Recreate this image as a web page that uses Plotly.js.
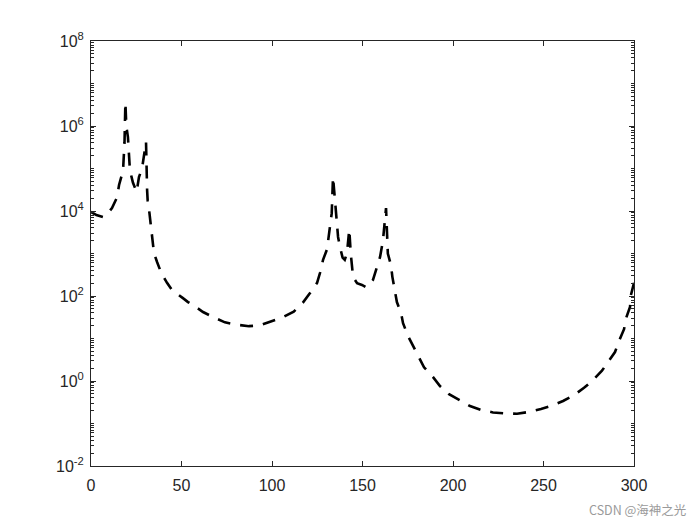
<!DOCTYPE html>
<html>
<head>
<meta charset="utf-8">
<script src="https://cdn.plot.ly/plotly-3.0.1.min.js"></script>
<style>body{margin:0;background:#fff;}#chart{width:700px;height:525px;}</style>
</head>
<body>
<div id="chart"></div>
<script>
var freq = [0, 3, 6.6, 9, 11.6, 14.4, 15.5, 17.7, 18.5, 19, 19.5, 20.4, 21.5, 23.2, 25.2, 26.5, 28.2, 29.3, 30.4, 31, 31.3, 32.3, 32.8, 33.7, 34.8, 36.5, 38.7, 42, 44.8, 50.8, 53.6, 58, 61.9, 67.4, 74, 80.7, 87.3, 93.4, 100.6, 106, 112, 117, 121, 124.9, 126.5, 128.2, 130.4, 131.5, 132, 133, 133.7, 134.3, 135, 136, 136.5, 137.6, 139, 140.2, 141.4, 142.7, 143.5, 144.8, 147, 149.7, 152, 155.8, 158, 159.7, 161.3, 162.4, 163, 164, 165.7, 166.5, 168, 169, 171.3, 172.4, 175.1, 178, 181.2, 184, 189, 192.8, 197.8, 203.3, 209.4, 215.5, 222.1, 228.2, 235.4, 241.4, 248.6, 254.7, 260.8, 266.3, 272.4, 276.8, 282.3, 285.6, 289.5, 291.7, 294.5, 295.6, 297.8, 298.3, 300];
var response = [9500, 8000, 7200, 8500, 11700, 21000, 41000, 89000, 400000, 3600000, 1000000, 550000, 91000, 46000, 28000, 63000, 100000, 210000, 420000, 31000, 18000, 8900, 5500, 2100, 1020, 630, 360, 204, 138, 89, 72, 55, 42, 32, 24, 21, 19.5, 20.4, 25.7, 31.6, 43, 69, 117, 204, 347, 708, 1260, 2450, 4200, 8900, 63000, 32000, 16000, 5000, 2450, 1400, 800, 710, 1000, 3700, 1000, 280, 200, 182, 160, 240, 457, 830, 2000, 5500, 11700, 1000, 537, 282, 138, 72, 40, 23, 11.5, 6.6, 3.5, 2.1, 1.23, 0.76, 0.49, 0.355, 0.257, 0.209, 0.182, 0.174, 0.17, 0.186, 0.219, 0.263, 0.339, 0.447, 0.69, 1.0, 1.74, 2.8, 4.8, 8.7, 16.6, 30, 55, 105, 204];
var xTicks = [0, 50, 100, 150, 200, 250, 300];
var yTicks = [0.01, 1, 100, 10000, 1000000, 100000000];
var yTickText = ['10<sup>-2</sup>', '10<sup>0</sup>', '10<sup>2</sup>', '10<sup>4</sup>', '10<sup>6</sup>', '10<sup>8</sup>'];

var trace = {
  x: freq, y: response, type: 'scatter', mode: 'lines',
  line: {color: '#000000', width: 2.6, dash: '13px,10px'},
  hoverinfo: 'skip'
};
var axisFont = {family: 'Liberation Sans, Arial, sans-serif', size: 16, color: '#262626'};
var layout = {
  width: 700, height: 525,
  margin: {l: 91, r: 66, t: 41, b: 59},
  paper_bgcolor: '#ffffff', plot_bgcolor: '#ffffff',
  showlegend: false,
  xaxis: {
    range: [0, 300], tickvals: xTicks, ticktext: xTicks.map(String),
    ticks: 'inside', ticklen: 5, tickcolor: '#262626', tickwidth: 1,
    showline: true, linecolor: '#262626', linewidth: 1, mirror: 'ticks',
    showgrid: false, zeroline: false, tickfont: axisFont, ticklabelstandoff: 5
  },
  yaxis: {
    type: 'log', range: [-2, 8], tickvals: yTicks, ticktext: yTickText,
    ticks: 'inside', ticklen: 5, tickcolor: '#262626', tickwidth: 1,
    showline: true, linecolor: '#262626', linewidth: 1, mirror: 'ticks',
    showgrid: false, zeroline: false, tickfont: axisFont, ticklabelstandoff: 3,
    minor: {ticks: 'inside', ticklen: 3, tickcolor: '#262626', dtick: 'D1', showgrid: false}
  },
  annotations: [{
    text: 'CSDN @海神之光', xref: 'paper', yref: 'paper', x: 1.1, y: -0.13,
    xanchor: 'right', yanchor: 'bottom', showarrow: false,
    font: {family: 'Noto Sans CJK SC, sans-serif', size: 12.5, color: '#9a9a9a'}
  }]
};
Plotly.newPlot('chart', [trace], layout, {staticPlot: true, displayModeBar: false});
</script>
</body>
</html>
